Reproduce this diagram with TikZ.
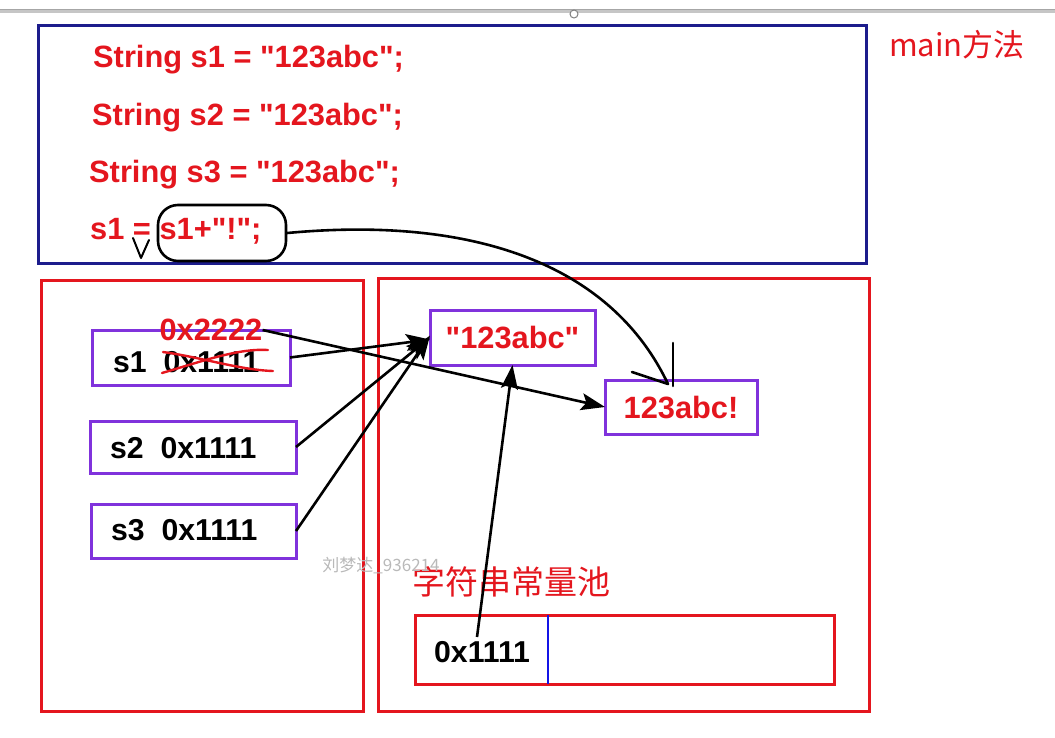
\documentclass[tikz,border=0pt]{standalone}
\usepackage{fontspec}
\usetikzlibrary{arrows.meta}
\newfontfamily\codefont{Liberation Sans}
\newfontfamily\cjkfont{Noto Sans CJK SC}
\definecolor{myred}{RGB}{228,22,30}
\definecolor{mynavy}{RGB}{28,28,140}
\definecolor{mypurple}{RGB}{128,50,220}
\definecolor{myblue}{RGB}{20,20,230}
\tikzset{
  box/.style={draw, line width=3pt, inner sep=0pt, outer sep=0pt},
  redbox/.style={box, draw=myred},
  purplebox/.style={box, draw=mypurple},
  code/.style={font=\codefont\bfseries\fontsize{30.8}{36}\selectfont, text=myred, inner sep=0pt, anchor=west},
  blk/.style={font=\codefont\bfseries\fontsize{30.2}{35}\selectfont, text=black, inner sep=0pt, anchor=west},
  cjk/.style={font=\cjkfont\fontsize{33}{40}\selectfont, text=myred, inner sep=0pt, anchor=west},
  arr/.style={line width=2.6pt, -{Stealth[length=24pt,width=17pt,inset=5pt]}},
  pen/.style={line width=2.6pt, line cap=round, line join=round},
  strike/.style={line width=2.4pt, draw=myred, line cap=round}
}
\begin{document}
\begin{tikzpicture}[x=1pt,y=-1pt]
\useasboundingbox (0,0) rectangle (1055,737);
% top bar
\draw[gray!45, line width=4pt] (0,11) -- (1055,11);
\draw[gray!70, line width=0.8pt] (0,9) -- (1055,9);
\node[circle, draw=gray, fill=white, line width=1pt, minimum size=8pt, inner sep=0pt] (knob) at (574,14) {};
% frames
\node[box, draw=mynavy, minimum width=828pt, minimum height=238pt] (mainbox) at (452,144) {};
\node[redbox, minimum width=322pt, minimum height=431pt] (stack) at (202,495.5) {};
\node[redbox, minimum width=491pt, minimum height=433pt] (heap) at (623.5,494.5) {};
% labels
\node[font=\cjkfont\fontsize{31}{38}\selectfont, text=myred, inner sep=0pt, anchor=west] (mainlbl) at (889,45) {main方法};
\node[code] (c1) at (93,60) {String s1 = "123abc";};
\node[code] (c2) at (92,118) {String s2 = "123abc";};
\node[code] (c3) at (89,175) {String s3 = "123abc";};
\node[code] (c4) at (90,231) {s1 = s1+"!";};
% bubble
\node[draw, line width=2.6pt, rounded corners=20pt, minimum width=128pt, minimum height=56pt, inner sep=0pt] (bub) at (222,233) {};
% v mark
\coordinate (v1) at (133,238); \coordinate (v2) at (141,258); \coordinate (v3) at (149,240);
\draw[pen, line width=2pt] (v1) -- (v2) -- (v3);
% stack boxes
\node[purplebox, minimum width=198pt, minimum height=55pt] (s1box) at (191,357.5) {};
\node[purplebox, minimum width=206pt, minimum height=52pt] (s2box) at (193,447) {};
\node[purplebox, minimum width=205pt, minimum height=54pt] (s3box) at (193.5,531) {};
\node[blk] (s1txt) at (113,362) {s1\ \ 0x1111};
\node[blk] (s2txt) at (110,448) {s2\ \ 0x1111};
\node[blk] (s3txt) at (111,530) {s3\ \ 0x1111};
\draw[strike] (162,373) .. controls (200,362) and (238,348) .. (268,350);
\draw[strike] (163,352) .. controls (200,357) and (240,370) .. (273,371);
\node[code, anchor=center] (newaddr) at (211,330) {0x2222};
% heap boxes
\node[purplebox, minimum width=165pt, minimum height=55pt] (lit) at (512.5,337.5) {};
\node[code, anchor=center] (littxt) at (lit) {"123abc"};
\node[purplebox, minimum width=152pt, minimum height=54pt] (newbox) at (681,407) {};
\node[code, anchor=center] (newtxt) at (681,408) {123abc!};
% pool
\node[cjk] (pooltitle) at (412,582) {字符串常量池};
\node[redbox, minimum width=419pt, minimum height=69pt] (pool) at (624.5,649.5) {};
\draw[myblue, line width=2.6pt] ([xshift=-76.5pt]pool.north) -- ([xshift=-76.5pt]pool.south);
\node[blk] (pooladdr) at (434,652) {0x1111};
% watermark
\node[font=\cjkfont\fontsize{17}{20}\selectfont, text=gray!55, inner sep=0pt] (wm) at (381,566) {刘梦达\_936214};
% arrows
\draw[arr] (s1box.east) -- ([yshift=-2pt]lit.west);
\draw[arr] (s2box.east) -- (lit.west);
\draw[arr] (s3box.east) -- ([yshift=2pt]lit.west);
\draw[arr] (newaddr.east) -- (newbox.west);
\coordinate (poolstart) at (477,637);
\draw[arr] (poolstart) -- (lit.south);
% curved hand-drawn arrow
\coordinate (ah) at (668,384);
\coordinate (ahl) at (632,372);
\coordinate (vt) at (673,343);
\coordinate (vb) at (673,386);
\draw[pen] (bub.east) .. controls (470,216) and (610,262) .. (ah);
\draw[pen] (ahl) -- (ah);
\draw[pen] (vt) -- (vb);
\end{tikzpicture}
\end{document}
